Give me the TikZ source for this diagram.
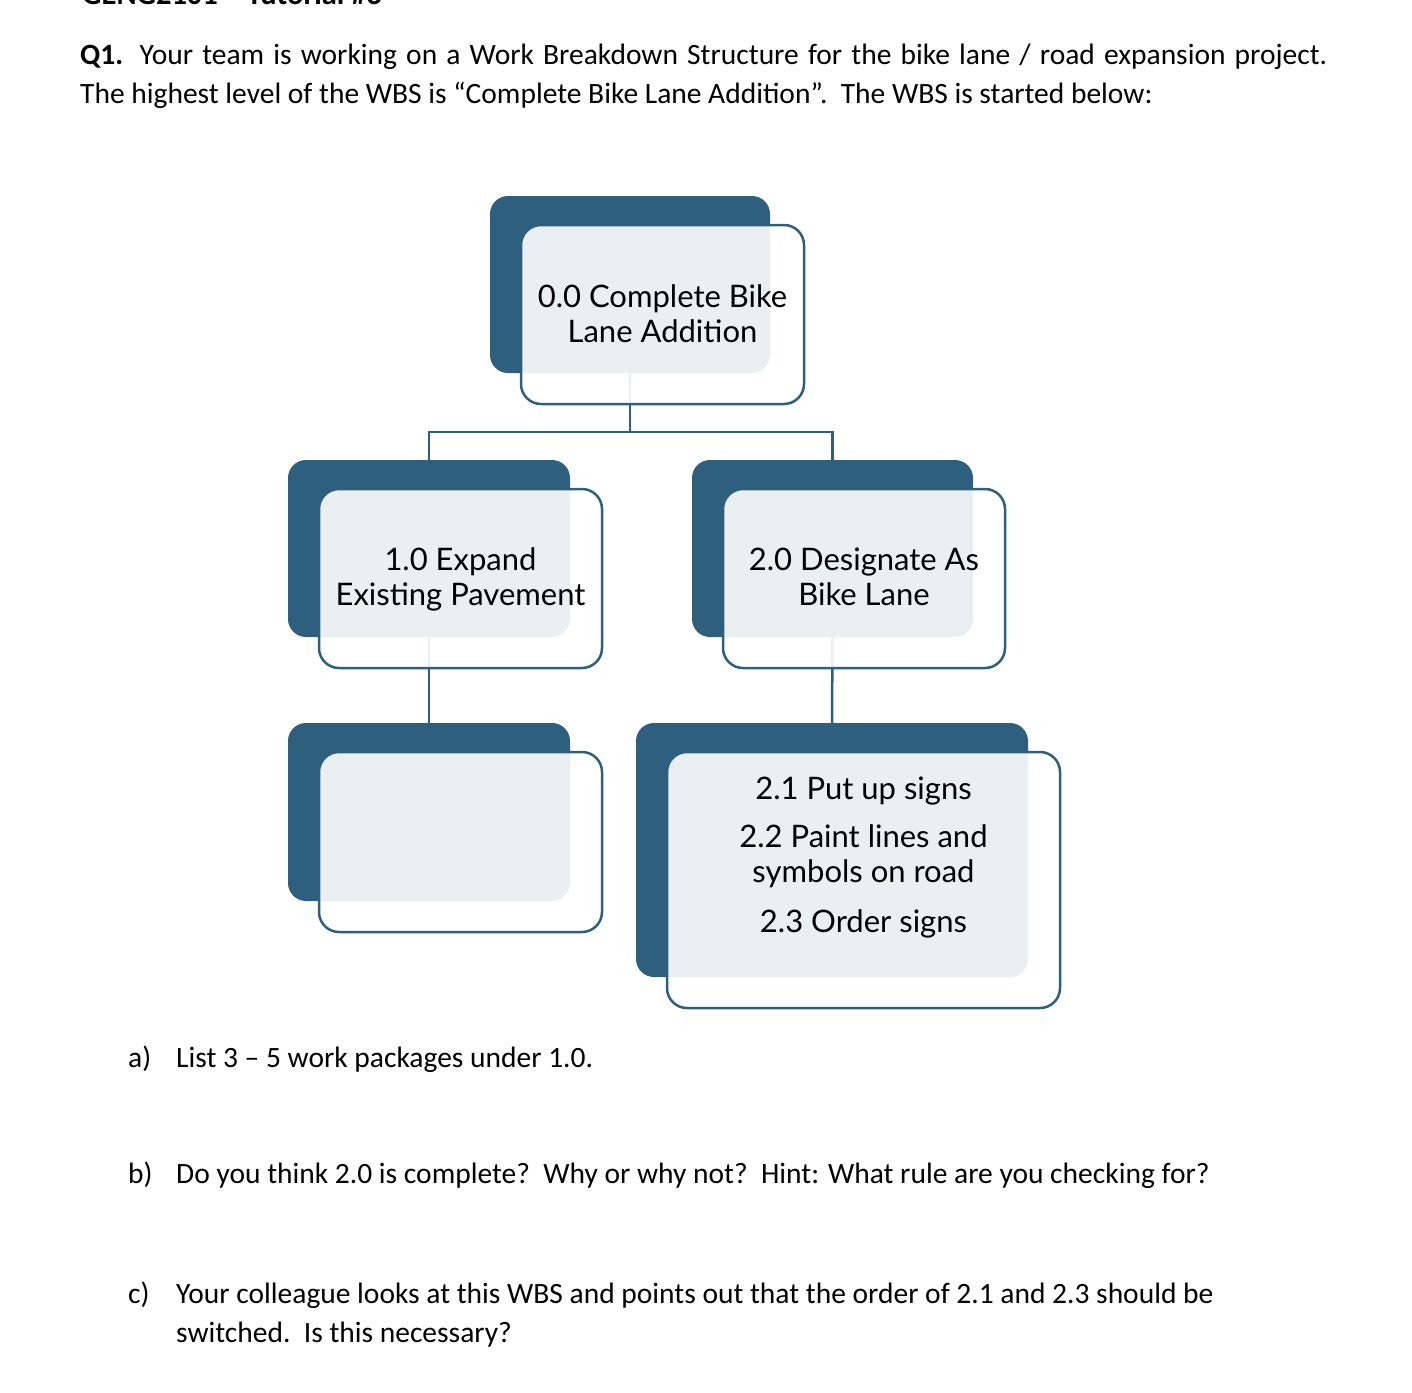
\documentclass[tikz,border=0pt]{standalone}
\usepackage{fontspec}
\setmainfont{Carlito}
\newfontfamily\boxfont{Lato}
\usetikzlibrary{calc}
\definecolor{wbsblue}{HTML}{2F5F7F}
\begin{document}
\begin{tikzpicture}[x=1pt,y=-1pt,
  back/.style={fill=wbsblue, draw=none, rounded corners=18pt, inner sep=0pt, outer sep=0pt, anchor=north west},
  front/.style={fill=white, fill opacity=0.9, draw=wbsblue, line width=2.5pt, rounded corners=20pt, inner sep=0pt, outer sep=0pt, anchor=north west},
  link/.style={draw=wbsblue, line width=2.5pt},
  boxtext/.style={font=\boxfont\fontsize{31}{35}\selectfont, align=center, anchor=base, inner sep=0pt},
  para/.style={font=\fontsize{29.5}{39}\selectfont, anchor=base west, inner sep=0pt}]
\useasboundingbox (0,0) rectangle (1412,1392);
% header (cut off at the top of the page, as in the reference)
\node[para, font=\bfseries\fontsize{30.5}{39}\selectfont] (hdr) at (82,5) {GENG2101 -- Tutorial \#3};
\node[para] (q1a) at (80,64) {\makebox[1247pt][s]{\textbf{Q1.} Your team is working on a Work Breakdown Structure for the bike lane / road expansion project.}};
\node[para] (q1b) at (80,103) {The highest level of the WBS is “Complete Bike Lane Addition”.\ \ The WBS is started below:};
% back boxes
\node[back, minimum width=280pt, minimum height=177pt] (b0) at (490,196) {};
\node[back, minimum width=282pt, minimum height=177pt] (b1) at (288,460) {};
\node[back, minimum width=281pt, minimum height=177pt] (b2) at (692,460) {};
\node[back, minimum width=282pt, minimum height=178pt] (b3) at (288,723) {};
\node[back, minimum width=392pt, minimum height=254pt] (b4) at (636,723) {};
% connectors
\coordinate (j0) at (b0.south |- 0,432);
\draw[link] (b0.south) -- (j0);
\draw[link] (b1.north) |- (j0) -| (b2.north);
\draw[link] (b1.south) -- (b3.north);
\draw[link] (b2.south) -- (b4.north);
% front boxes
\node[front, minimum width=283pt, minimum height=179pt] (f0) at (521,225) {};
\node[front, minimum width=283pt, minimum height=179pt] (f1) at (319,489) {};
\node[front, minimum width=282pt, minimum height=179pt] (f2) at (723,489) {};
\node[front, minimum width=283pt, minimum height=180pt] (f3) at (319,752) {};
\node[front, minimum width=393pt, minimum height=256pt] (f4) at (667,752) {};
% box texts (anchor = baseline of the last line)
\node[boxtext] (t0) at (f0.center |- 0,342) {0.0 Complete Bike\\Lane Addition};
\node[boxtext] (t1) at (f1.center |- 0,605) {1.0 Expand\\Existing Pavement};
\node[boxtext] (t2) at (f2.center |- 0,605) {2.0 Designate As\\Bike Lane};
\node[boxtext] (t4) at (f4.center |- 0,932) {2.1 Put up signs\\[13pt]2.2 Paint lines and\\symbols on road\\[15pt]2.3 Order signs};
% questions
\node[para] (qa) at (128,1067) {a)};
\node[para] (qat) at (176,1067) {List 3 – 5 work packages under 1.0.};
\node[para] (qb) at (128,1183) {b)};
\node[para] (qbt) at (176,1183) {Do you think 2.0 is complete?\ \ Why or why not?\ \ Hint: What rule are you checking for?};
\node[para] (qc) at (128,1303) {c)};
\node[para] (qct) at (176,1303) {Your colleague looks at this WBS and points out that the order of 2.1 and 2.3 should be};
\node[para] (qct2) at (176,1342) {switched.\ \ Is this necessary?};
\end{tikzpicture}
\end{document}
